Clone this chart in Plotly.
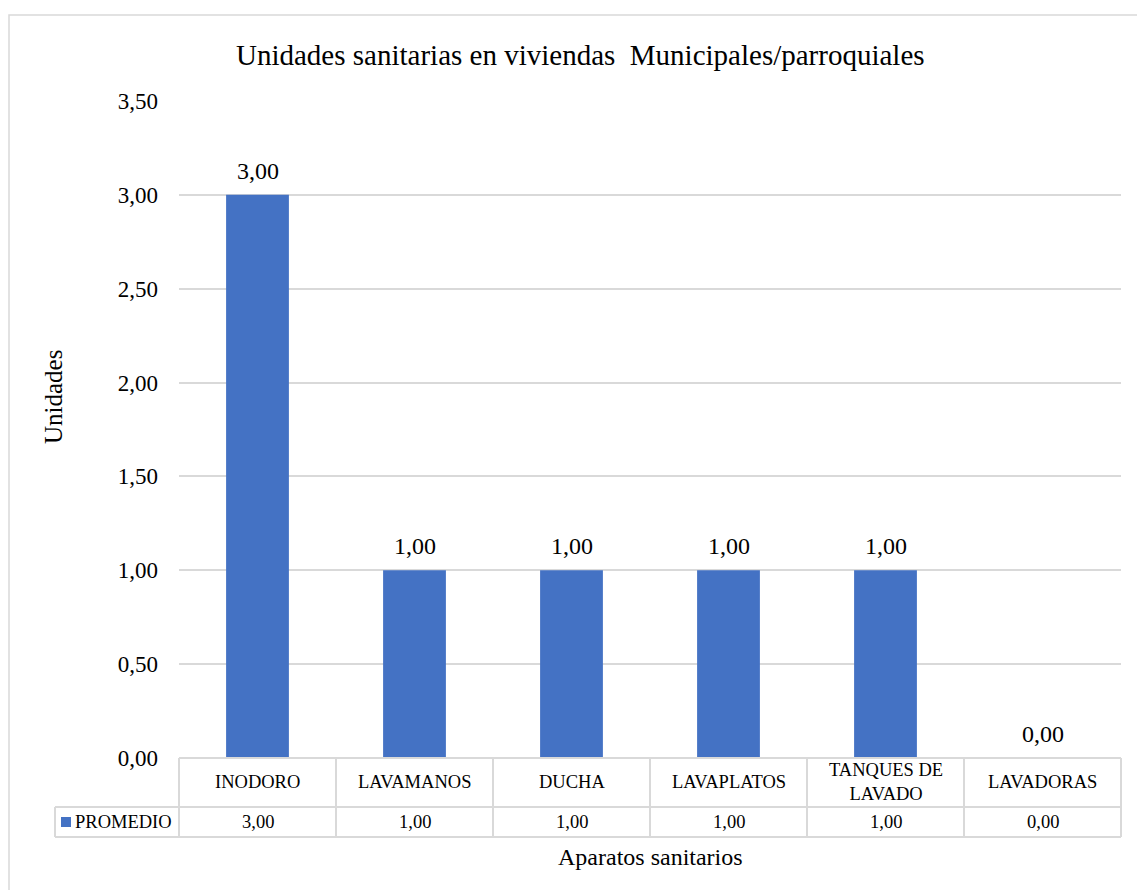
import plotly.graph_objects as go

# Chart data
categories = ["INODORO", "LAVAMANOS", "DUCHA", "LAVAPLATOS", "TANQUES DE<br>LAVADO", "LAVADORAS"]
promedio = [3.00, 1.00, 1.00, 1.00, 1.00, 0.00]
series_name = "PROMEDIO"
y_ticks = [0.0, 0.5, 1.0, 1.5, 2.0, 2.5, 3.0, 3.5]

W, H = 1137, 890
ML, MR, MT, MB = 179, 16, 101, 132
PW, PH = W - ML - MR, H - MT - MB

BLUE = "#4472C4"
GRID = "#d9d9d9"
FONT = "Liberation Serif"
TABLE_SIZE = 18.5


def px_x(px):
    """Pixel column -> paper x."""
    return (px - ML) / PW


def px_y(py):
    """Pixel row -> paper y."""
    return (H - MB - py) / PH


def fmt(v):
    return f"{v:.2f}".replace(".", ",")


fig = go.Figure()
fig.add_trace(go.Bar(
    x=list(range(len(categories))),
    y=promedio,
    marker=dict(color=BLUE, line=dict(width=0)),
    name=series_name,
    showlegend=False,
))

shapes = []
annotations = []
n = len(categories)

# Value labels above the bars
for i, val in enumerate(promedio):
    annotations.append(dict(xref="x", yref="y", x=i, y=val, text=fmt(val),
                            showarrow=False, xanchor="center", yanchor="bottom", yshift=9,
                            font=dict(family=FONT, size=24, color="#000")))

# Outer chart border
shapes.append(dict(type="rect", xref="paper", yref="paper",
                   x0=px_x(9), x1=px_x(W + 5), y0=px_y(H + 5), y1=px_y(15),
                   line=dict(color=GRID, width=1.5), fillcolor="rgba(0,0,0,0)", layer="below"))

# Data table grid
row1_top, row1_bot, row2_bot = H - MB, 807, 837
legend_left = 55
line_style = dict(color=GRID, width=2)
shapes.append(dict(type="line", xref="paper", yref="paper", x0=0, x1=1,
                   y0=px_y(row1_top), y1=px_y(row1_top), line=line_style))
for yy in (row1_bot, row2_bot):
    shapes.append(dict(type="line", xref="paper", yref="paper", x0=px_x(legend_left), x1=1,
                       y0=px_y(yy), y1=px_y(yy), line=line_style))
for i in range(n + 1):
    shapes.append(dict(type="line", xref="paper", yref="paper", x0=i / n, x1=i / n,
                       y0=px_y(row1_top), y1=px_y(row2_bot), line=line_style))
shapes.append(dict(type="line", xref="paper", yref="paper", x0=px_x(legend_left), x1=px_x(legend_left),
                   y0=px_y(row1_bot), y1=px_y(row2_bot), line=line_style))

# Legend key in the table
shapes.append(dict(type="rect", xref="paper", yref="paper",
                   x0=px_x(61), x1=px_x(71), y0=px_y(827), y1=px_y(817),
                   fillcolor=BLUE, line=dict(width=0)))
annotations.append(dict(xref="paper", yref="paper", x=px_x(73), y=px_y(822),
                        text=series_name, showarrow=False, xanchor="left", yanchor="middle",
                        font=dict(family=FONT, size=TABLE_SIZE, color="#000")))

# Table cells: category names and values
for i, (cat, val) in enumerate(zip(categories, promedio)):
    annotations.append(dict(xref="x", yref="paper", x=i, y=px_y(782),
                            text=cat, showarrow=False, xanchor="center", yanchor="middle",
                            font=dict(family=FONT, size=TABLE_SIZE, color="#000")))
    annotations.append(dict(xref="x", yref="paper", x=i, y=px_y(822),
                            text=fmt(val), showarrow=False,
                            xanchor="center", yanchor="middle",
                            font=dict(family=FONT, size=TABLE_SIZE, color="#000")))

# Titles
annotations.append(dict(xref="paper", yref="paper", x=px_x(580), y=px_y(55),
                        text="Unidades sanitarias en viviendas  Municipales/parroquiales",
                        showarrow=False, xanchor="center", yanchor="middle",
                        font=dict(family=FONT, size=29, color="#000")))
annotations.append(dict(xref="paper", yref="paper", x=px_x(650), y=px_y(857),
                        text="Aparatos sanitarios", showarrow=False,
                        xanchor="center", yanchor="middle",
                        font=dict(family=FONT, size=24, color="#000")))
annotations.append(dict(xref="paper", yref="paper", x=px_x(53), y=px_y(397),
                        text="Unidades", showarrow=False, textangle=-90,
                        xanchor="center", yanchor="middle",
                        font=dict(family=FONT, size=25, color="#000")))

fig.update_layout(
    width=W, height=H,
    margin=dict(l=ML, r=MR, t=MT, b=MB, pad=0),
    paper_bgcolor="white", plot_bgcolor="white",
    separators=",.",
    bargap=0.6,
    shapes=shapes,
    annotations=annotations,
    font=dict(family=FONT, color="#000"),
    xaxis=dict(range=[-0.5, n - 0.5], showticklabels=False, showgrid=False,
               zeroline=False, showline=False, ticks=""),
    yaxis=dict(range=[0, 3.5], tickvals=y_ticks, tickformat=".2f",
               showgrid=True, gridcolor=GRID, gridwidth=1.5,
               zeroline=False, showline=False, ticks="",
               ticklabelstandoff=20,
               tickfont=dict(family=FONT, size=23, color="#000")),
)

fig.write_html("out.html")
